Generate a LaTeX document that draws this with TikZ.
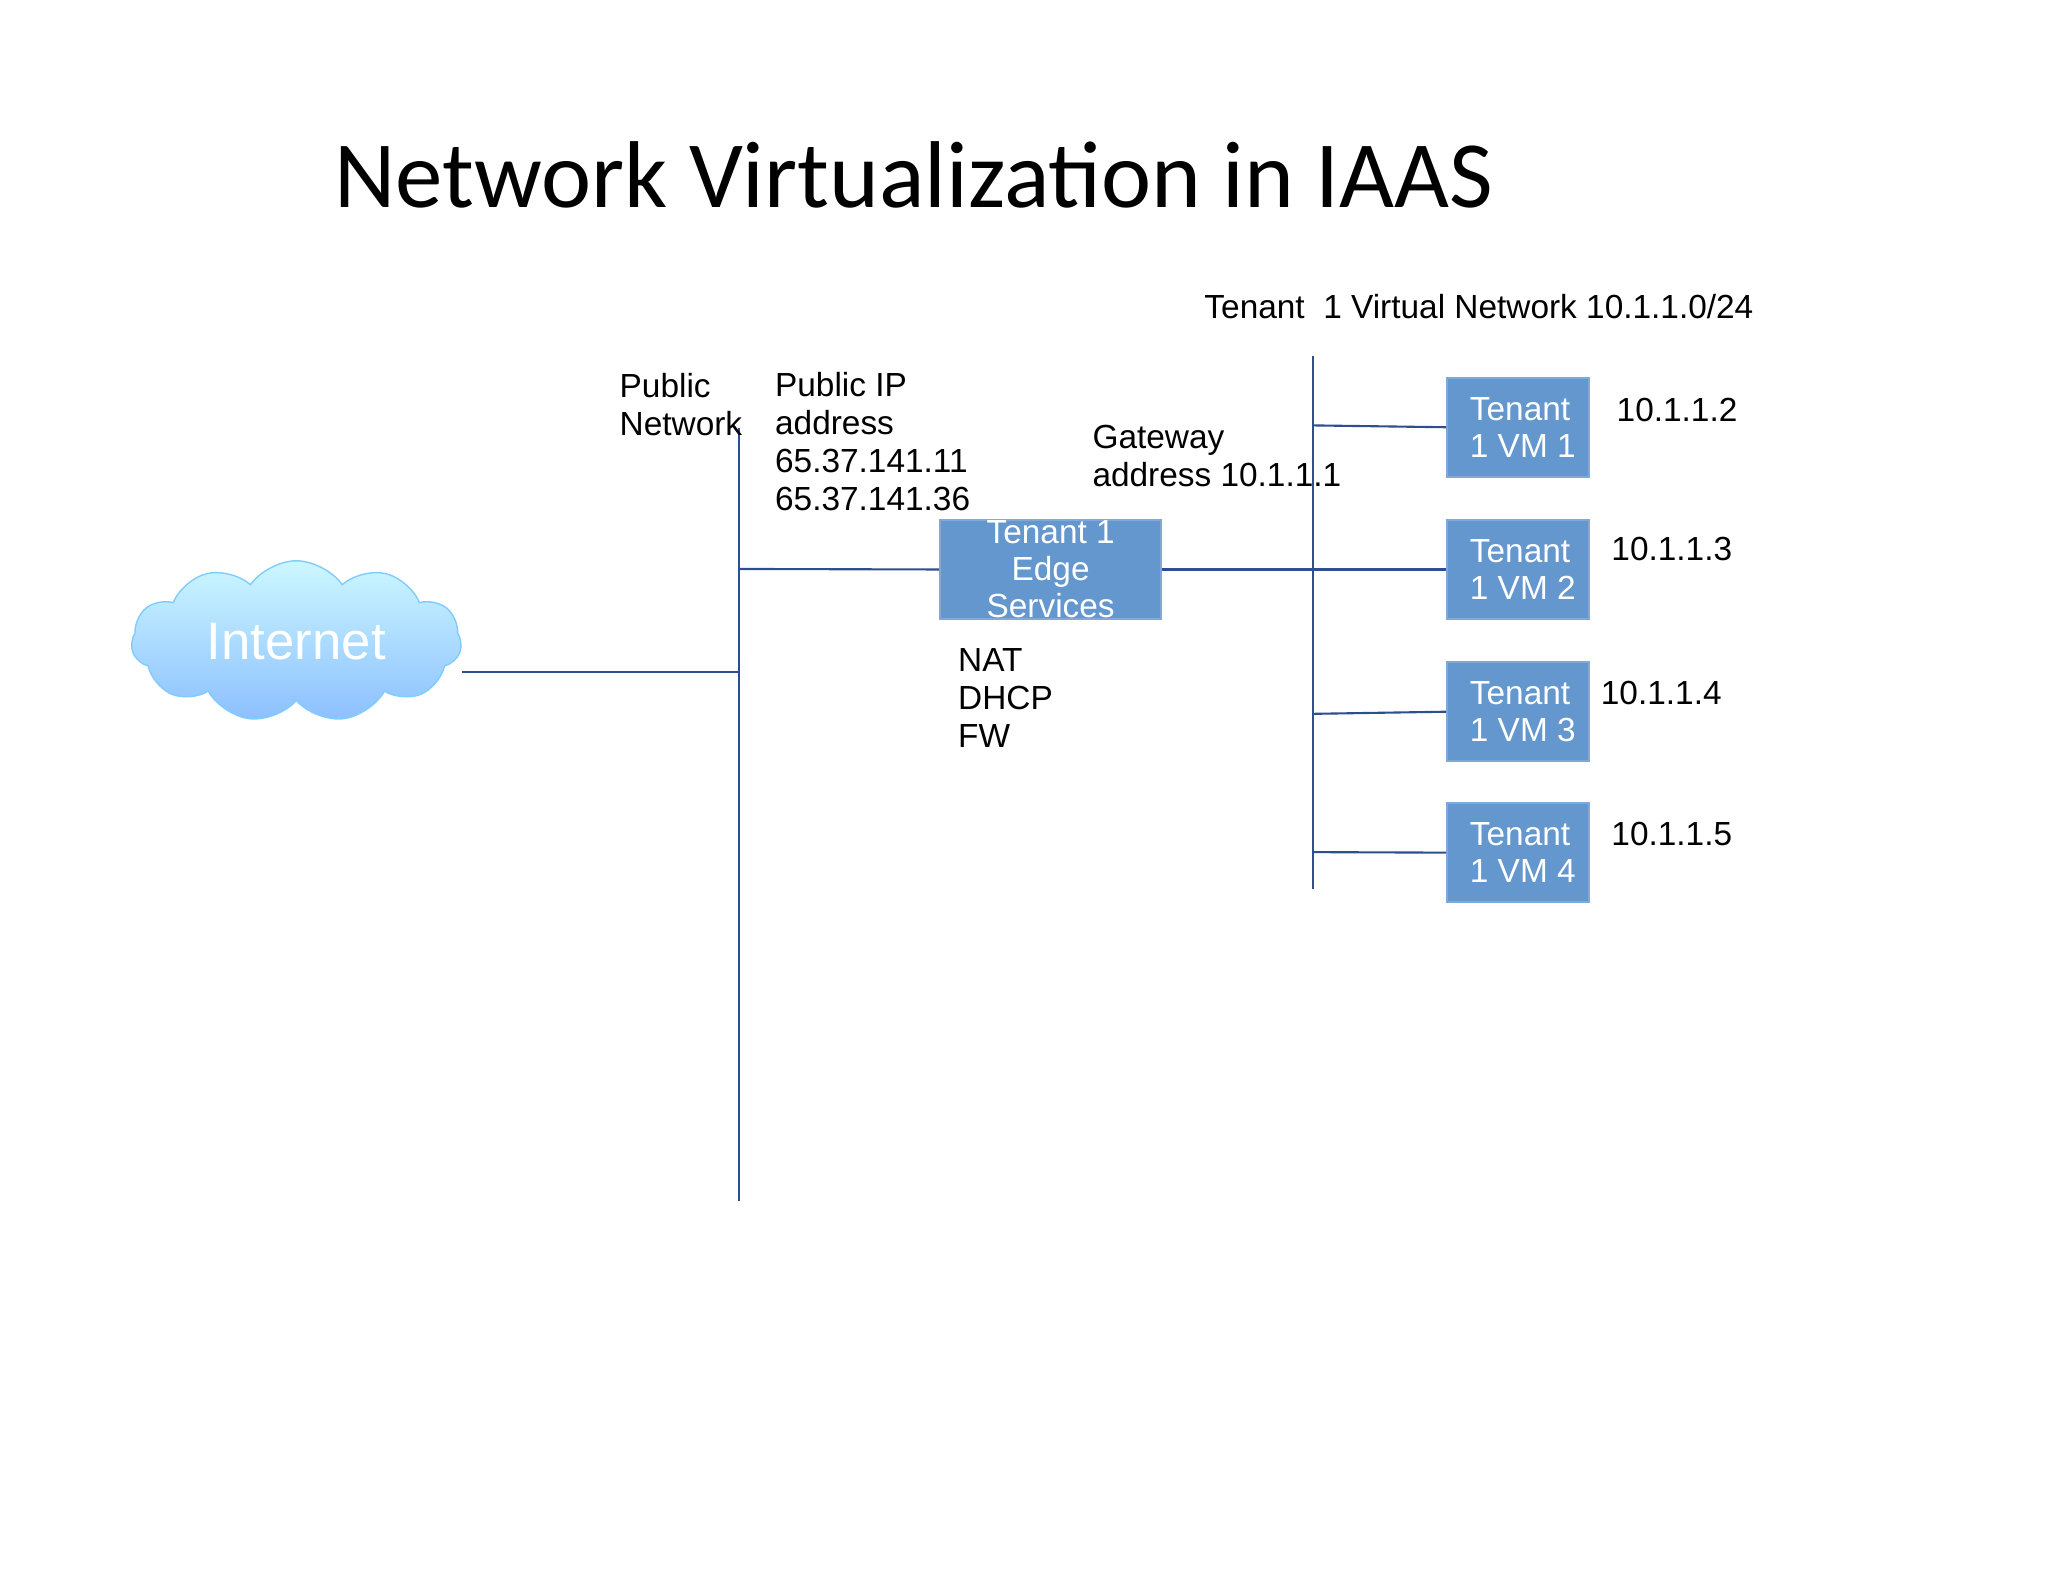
\documentclass[tikz,border=0pt]{standalone}
\usepackage{fontspec}
\setmainfont{Liberation Sans}
\newfontfamily\titlefont{Carlito}
\usetikzlibrary{shapes.symbols}
\definecolor{boxblue}{HTML}{6497CE}
\definecolor{boxedge}{HTML}{7FA9D8}
\definecolor{linecol}{HTML}{2D4F8E}
\tikzset{
  vmbox/.style={draw=boxedge,fill=boxblue,line width=0.6pt,minimum width=1.42cm,minimum height=0.99cm,text=white,align=left,font=\fontsize{9.5}{10.5}\selectfont,inner sep=0pt,anchor=north west},
  lbl/.style={font=\fontsize{9.5}{10.8}\selectfont,align=left,inner sep=0pt,anchor=north west},
  net/.style={draw=linecol,line width=0.6pt}
}
\begin{document}
\begin{tikzpicture}[x=0.01317cm,y=-0.01317cm]
\useasboundingbox (0,0) rectangle (1555,1201);
\node[font=\titlefont\fontsize{27}{30}\selectfont,inner sep=0pt] (title) at (694,133) {Network Virtualization in IAAS};
\node[lbl,anchor=west] (vnet) at (914,233) {Tenant\ \ 1 Virtual Network 10.1.1.0/24};
% vertical buses
\coordinate (p1) at (561,325); \coordinate (p2) at (561,912);
\coordinate (t1) at (997,270); \coordinate (t2) at (997,675);
\draw[net] (p1) -- (p2);
\draw[net] (t1) -- (t2);
% cloud
\node[cloud,cloud puffs=11,cloud puff arc=110,aspect=2.3,minimum width=3.3cm,minimum height=1.45cm,top color=blue!15!cyan!20,bottom color=blue!55!cyan!45,draw=blue!40!cyan!50,text=white,font=\fontsize{15}{17}\selectfont] (inet) at (225,487) {Internet};
\coordinate (pinet) at (561,510);
\draw[net] (inet.east |- pinet) -- (pinet);
% edge box
\node[vmbox,minimum width=2.21cm,align=center] (edge) at (713,394) {Tenant 1\\Edge\\Services};
\coordinate (pedge) at (561,432);
\draw[net] (pedge) -- (edge.west);
% VMs
\node[vmbox] (vm1) at (1098,286) {\ Tenant\\\ 1 VM 1};
\node[vmbox] (vm2) at (1098,394) {\ Tenant\\\ 1 VM 2};
\node[vmbox] (vm3) at (1098,502) {\ Tenant\\\ 1 VM 3};
\node[vmbox] (vm4) at (1098,609) {\ Tenant\\\ 1 VM 4};
\draw[net] (edge.east) -- (vm2.west);
\draw[net] (vm1.west) -- (997,323);
\draw[net] (vm3.west) -- (997,542);
\draw[net] (vm4.west) -- (997,647);
% labels
\node[lbl,anchor=west] (ip2) at (1227,311) {10.1.1.2};
\node[lbl,anchor=west] (ip3) at (1223,417) {10.1.1.3};
\node[lbl,anchor=west] (ip4) at (1215,526) {10.1.1.4};
\node[lbl,anchor=west] (ip5) at (1223,633) {10.1.1.5};
\node[lbl,anchor=west] (pubnet) at (470,307) {Public\\Network};
\node[lbl,anchor=west] (pubip) at (588,335) {Public IP\\address\\65.37.141.11\\65.37.141.36};
\node[lbl,anchor=west] (gw) at (829,346) {Gateway\\address 10.1.1.1};
\node[lbl,anchor=west] (svc) at (727,530) {NAT\\DHCP\\FW};
\end{tikzpicture}
\end{document}
